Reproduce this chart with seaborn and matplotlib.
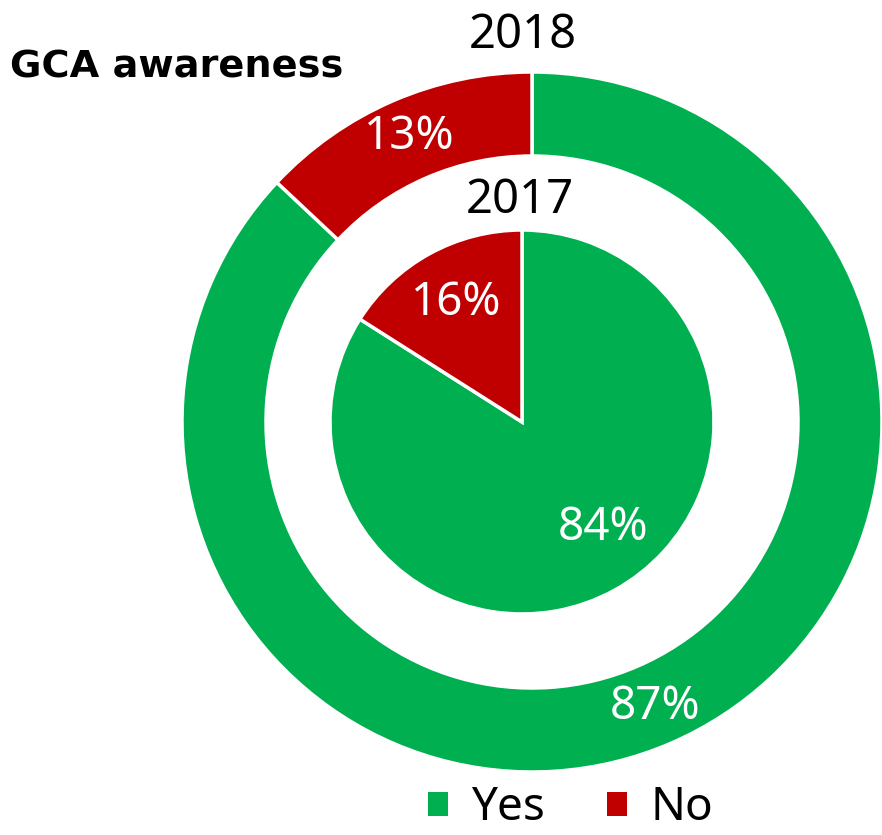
import matplotlib
matplotlib.use("Agg")
import matplotlib.pyplot as plt
from matplotlib.patches import Patch
import seaborn as sns

# Survey results: share of respondents aware of the GCA
categories = ["Yes", "No"]
values_2018 = [87, 13]
values_2017 = [84, 16]
years = ["2018", "2017"]
title_text = "GCA awareness"

GREEN = "#00B050"
RED = "#C00000"
colors = [GREEN, RED]

sns.set_theme(style="white")
plt.rcParams["font.family"] = ["Noto Sans", "DejaVu Sans"]

W, H = 882, 835
fig = plt.figure(figsize=(W / 100, H / 100), dpi=100)
ax = fig.add_axes([0, 0, 1, 1])

outer_c = (532, 413)
inner_c = (522, 413)

# Outer ring: 2018
wedges_o, _, pct_o = ax.pie(
    values_2018, colors=colors, startangle=90, counterclock=False,
    radius=350, center=outer_c, frame=True,
    wedgeprops=dict(width=84, edgecolor="white", linewidth=2.5),
    autopct=lambda p: f"{p:.0f}%", pctdistance=0.886,
    textprops=dict(color="white", fontsize=33),
)

# Inner pie: 2017
wedges_i, _, pct_i = ax.pie(
    values_2017, colors=colors, startangle=90, counterclock=False,
    radius=192, center=inner_c, frame=True,
    wedgeprops=dict(edgecolor="white", linewidth=2.5),
    autopct=lambda p: f"{p:.0f}%", pctdistance=0.71,
    textprops=dict(color="white", fontsize=33),
)
pct_i[0].set_position((603, 307))

ax.set_xlim(0, W)
ax.set_ylim(0, H)
ax.set_aspect("equal")
ax.axis("off")

# Year captions
ax.text(523, 787, years[0], ha="center", va="baseline", fontsize=34, color="black")
ax.text(520, 622, years[1], ha="center", va="baseline", fontsize=34, color="black")

# Title
ax.text(10, 758, title_text, ha="left", va="baseline", fontsize=27.5,
        fontweight="bold", color="black", family="DejaVu Sans")

handles = [Patch(facecolor=c, edgecolor="none") for c in colors]
fig.legend(handles, categories, loc="lower center", bbox_to_anchor=(0.647, -0.045),
           ncol=2, frameon=False, fontsize=33, handlelength=0.44, handleheight=0.44,
           handletextpad=0.5, columnspacing=1.35, labelcolor="black")

fig.savefig("out.png", dpi=100)
